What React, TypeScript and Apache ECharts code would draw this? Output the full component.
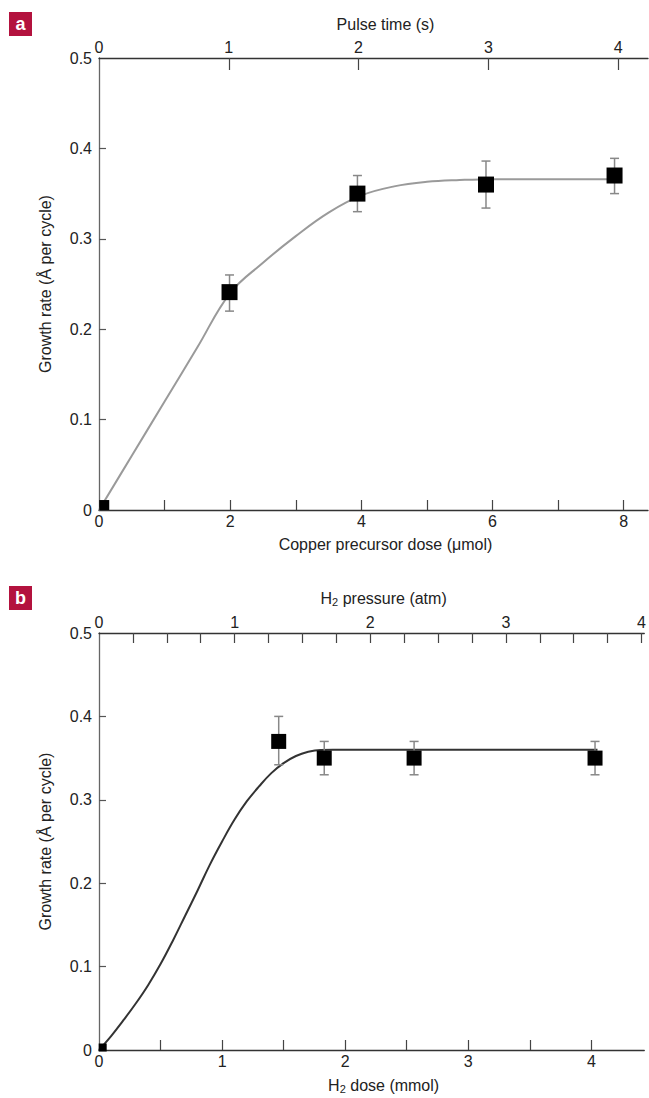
import React, { useEffect, useRef } from "react";
import * as echarts from "echarts";

// ---------- Panel a data ----------
const copperDose = [0.08, 1.99, 3.94, 5.9, 7.86];
const rateA = [0.0055, 0.241, 0.35, 0.36, 0.37];
const errLowA = [null, 0.22, 0.33, 0.334, 0.35];
const errHighA = [null, 0.26, 0.37, 0.386, 0.389];
const fitDoseA = [0, 0.5, 1, 1.5, 2, 2.5, 3, 3.5, 4, 4.5, 5, 5.5, 6, 7, 7.86];
const fitRateA = [0, 0.06, 0.12, 0.18, 0.24, 0.2735, 0.303, 0.329, 0.348, 0.358, 0.363, 0.365, 0.366, 0.366, 0.366];
const doseTicksA = [1, 2, 3, 4, 5, 6, 7, 8];
const doseLabelsA = [0, 2, 4, 6, 8];
const pulseTicks = [1, 2, 3, 4];
const pulseLabels = [0, 1, 2, 3, 4];

// ---------- Panel b data ----------
const h2Dose = [0.03, 1.46, 1.83, 2.56, 4.03];
const rateB = [0.003, 0.37, 0.35, 0.35, 0.35];
const errLowB = [null, 0.342, 0.33, 0.33, 0.33];
const errHighB = [null, 0.4, 0.37, 0.37, 0.37];
const fitDoseB = [0, 0.1, 0.2, 0.3, 0.4, 0.5, 0.6, 0.7, 0.8, 0.9, 1.0, 1.1, 1.2, 1.3, 1.4, 1.5, 1.6, 1.7, 1.8, 1.9, 2.0, 3.0, 4.05];
const fitRateB = [0, 0.017, 0.036, 0.056, 0.078, 0.103, 0.131, 0.161, 0.191, 0.222, 0.25, 0.276, 0.298, 0.316, 0.332, 0.344, 0.3525, 0.3575, 0.3598, 0.36, 0.36, 0.36, 0.36];
const h2DoseTicks = [0.5, 1, 1.5, 2, 2.5, 3, 3.5, 4];
const h2DoseLabels = [0, 1, 2, 3, 4];
const pressureTicks = [0.25, 0.5, 0.75, 1, 1.25, 1.5, 1.75, 2, 2.25, 2.5, 2.75, 3, 3.25, 3.5, 3.75, 4];
const pressureLabels = [0, 1, 2, 3, 4];

// ---------- shared ----------
const rateTicks = [0.1, 0.2, 0.3, 0.4];
const rateLabels = [0, 0.1, 0.2, 0.3, 0.4, 0.5];

const FONT = "'Liberation Sans Narrow', 'Arial Narrow', 'Liberation Sans', sans-serif";
const TXT = "#222";

function zip(xs: number[], ys: number[]) {
  return xs.map((x, i) => [x, ys[i]]);
}
function errData(xs: number[], lo: (number | null)[], hi: (number | null)[]) {
  const out: number[][] = [];
  xs.forEach((x, i) => {
    if (lo[i] != null && hi[i] != null) out.push([x, lo[i] as number, hi[i] as number]);
  });
  return out;
}

function xAxisDef(opts: any) {
  const top = opts.position === "top";
  return {
    type: "value",
    gridIndex: opts.grid,
    position: opts.position,
    min: 0,
    max: opts.max,
    name: opts.name,
    nameLocation: "middle",
    nameGap: opts.nameGap,
    nameTextStyle: {
      fontFamily: FONT,
      fontSize: 16,
      color: TXT,
      padding: [0, 0, 0, 24],
      rich: {
        t: { fontFamily: FONT, fontSize: 16, color: TXT },
        s: { fontFamily: FONT, fontSize: 11, color: TXT, padding: [7, 0, 0, 0] },
      },
    },
    splitLine: { show: false },
    axisLine: { show: true, onZero: false, lineStyle: { color: "#333", width: 1.3 } },
    axisTick: {
      show: true,
      inside: true,
      length: top ? opts.tickLen ?? 11 : 10,
      customValues: opts.ticks,
      lineStyle: { color: "#444", width: 1.2 },
    },
    axisLabel: {
      customValues: opts.labels,
      fontFamily: FONT,
      fontSize: 16,
      color: TXT,
      margin: 3,
    },
  };
}

function yAxisDef(grid: number) {
  return {
    type: "value",
    gridIndex: grid,
    min: 0,
    max: 0.5,
    name: "Growth rate (Å per cycle)",
    nameLocation: "middle",
    nameGap: 46,
    nameTextStyle: { fontFamily: FONT, fontSize: 16, color: TXT },
    splitLine: { show: false },
    axisLine: { show: true, lineStyle: { color: "#666", width: 1.3 } },
    axisTick: {
      show: true,
      inside: true,
      length: 7,
      customValues: rateTicks,
      lineStyle: { color: "#555", width: 1.2 },
    },
    axisLabel: {
      customValues: rateLabels,
      fontFamily: FONT,
      fontSize: 16,
      color: TXT,
      margin: 7,
    },
  };
}

function errorBarSeries(xi: number, yi: number, data: number[][]) {
  return {
    type: "custom",
    xAxisIndex: xi,
    yAxisIndex: yi,
    z: 3,
    data,
    renderItem: (params: any, api: any) => {
      const x = api.value(0);
      const pLo = api.coord([x, api.value(1)]);
      const pHi = api.coord([x, api.value(2)]);
      const w = 4.5;
      const style = { stroke: "#888", lineWidth: 1.5 };
      return {
        type: "group",
        children: [
          { type: "line", shape: { x1: pLo[0], y1: pLo[1], x2: pHi[0], y2: pHi[1] }, style },
          { type: "line", shape: { x1: pLo[0] - w, y1: pLo[1], x2: pLo[0] + w, y2: pLo[1] }, style },
          { type: "line", shape: { x1: pHi[0] - w, y1: pHi[1], x2: pHi[0] + w, y2: pHi[1] }, style },
        ],
      };
    },
  };
}

function panelLabel(letter: string, top: number) {
  return {
    type: "group",
    left: 9,
    top,
    children: [
      { type: "rect", shape: { x: 0, y: 0, width: 23, height: 24 }, style: { fill: "#b3123e" } },
      {
        type: "text",
        x: 11.5,
        y: 12,
        style: {
          text: letter,
          fill: "#fff",
          font: "bold 18px 'Liberation Sans', Arial, sans-serif",
          align: "center",
          verticalAlign: "middle",
        },
      },
    ],
  };
}

export default function App() {
  const ref = useRef<HTMLDivElement>(null);
  useEffect(() => {
    if (!ref.current) return;
    const chart = echarts.init(ref.current, undefined, { renderer: "svg" });
    const option: any = {
      animation: false,
      backgroundColor: "#fff",
      grid: [
        { left: 99, top: 58, width: 549, height: 452 },
        { left: 99, top: 633, width: 549, height: 417 },
      ],
      xAxis: [
        xAxisDef({
          grid: 0, position: "bottom", max: 8.37, name: "Copper precursor dose (μmol)", nameGap: 26,
          ticks: doseTicksA, labels: doseLabelsA,
        }),
        xAxisDef({
          grid: 0, position: "top", max: 4.23, name: "Pulse time (s)", nameGap: 26,
          ticks: pulseTicks, labels: pulseLabels, tickLen: 12,
        }),
        xAxisDef({
          grid: 1, position: "bottom", max: 4.43, name: "{t|H}{s|2}{t| dose (mmol)}", nameGap: 26,
          ticks: h2DoseTicks, labels: h2DoseLabels,
        }),
        xAxisDef({
          grid: 1, position: "top", max: 4.02, name: "{t|H}{s|2}{t| pressure (atm)}", nameGap: 26,
          ticks: pressureTicks, labels: pressureLabels, tickLen: 10,
        }),
      ],
      yAxis: [yAxisDef(0), yAxisDef(1)],
      series: [
        {
          type: "line",
          xAxisIndex: 0,
          yAxisIndex: 0,
          data: zip(fitDoseA, fitRateA),
          smooth: 0.4,
          showSymbol: false,
          symbol: "none",
          lineStyle: { color: "#9a9a9a", width: 2 },
          z: 2,
        },
        errorBarSeries(0, 0, errData(copperDose, errLowA, errHighA)),
        {
          type: "scatter",
          xAxisIndex: 0,
          yAxisIndex: 0,
          data: zip(copperDose, rateA),
          symbol: "rect",
          symbolSize: (_v: any, p: any) => (p.dataIndex === 0 ? 10 : 16),
          itemStyle: { color: "#000", opacity: 1 },
          z: 5,
        },
        {
          type: "line",
          xAxisIndex: 2,
          yAxisIndex: 1,
          data: zip(fitDoseB, fitRateB),
          smooth: 0.4,
          showSymbol: false,
          symbol: "none",
          lineStyle: { color: "#333", width: 2 },
          z: 2,
        },
        errorBarSeries(2, 1, errData(h2Dose, errLowB, errHighB)),
        {
          type: "scatter",
          xAxisIndex: 2,
          yAxisIndex: 1,
          data: zip(h2Dose, rateB),
          symbol: "rect",
          symbolSize: (_v: any, p: any) => (p.dataIndex === 0 ? 8 : 15),
          itemStyle: { color: "#000", opacity: 1 },
          z: 5,
        },
      ],
      graphic: [panelLabel("a", 12), panelLabel("b", 586)],
    };
    chart.setOption(option);
    return () => chart.dispose();
  }, []);
  return (
    <div
      ref={ref}
      style={{ position: "absolute", left: 0, top: 0, width: 649, height: 1098, background: "#fff" }}
    />
  );
}
